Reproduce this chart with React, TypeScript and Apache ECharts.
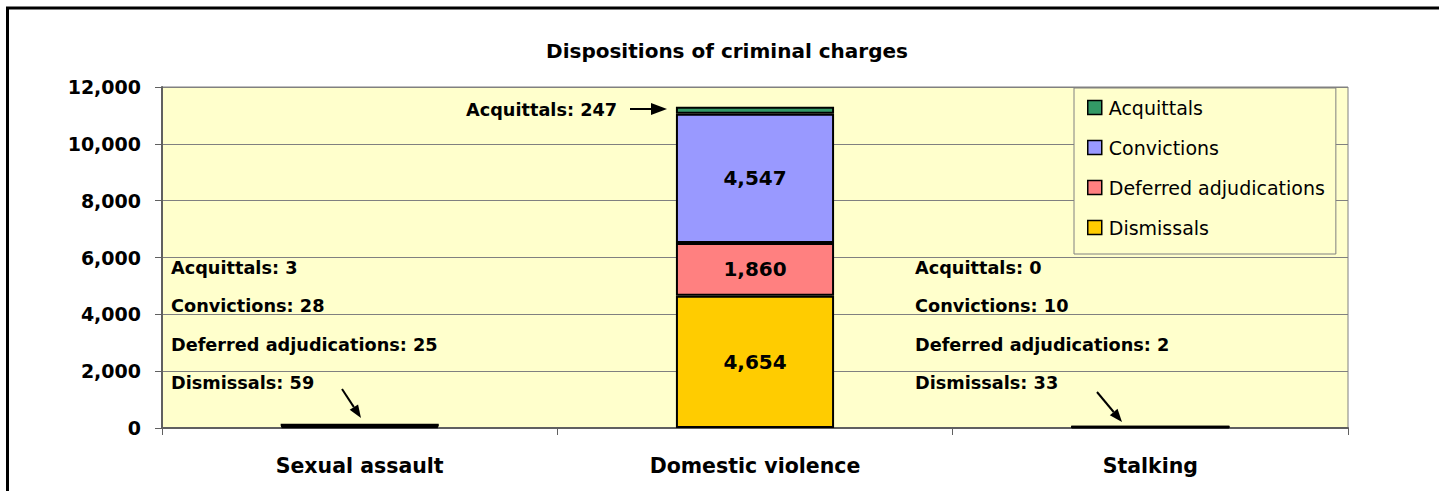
import React, { useEffect, useRef } from "react";
import * as echarts from "echarts";

const categories = ["Sexual assault", "Domestic violence", "Stalking"];
const seriesNames = ["Acquittals", "Convictions", "Deferred adjudications", "Dismissals"];
const dismissals = [59, 4654, 33];
const deferred = [25, 1860, 2];
const convictions = [28, 4547, 10];
const acquittals = [3, 247, 0];
const yMin = 0;
const yMax = 12000;
const yInterval = 2000;
const titleText = "Dispositions of criminal charges";

const colors: Record<string, string> = {
  Acquittals: "#339966",
  Convictions: "#9999FF",
  "Deferred adjudications": "#FF8080",
  Dismissals: "#FFCC00",
};

const FONT = "DejaVu Sans";
const fmt = (v: number) => v.toLocaleString("en-US");

export default function App() {
  const ref = useRef<HTMLDivElement>(null);
  useEffect(() => {
    if (!ref.current) return;
    const chart = echarts.init(ref.current, undefined, { renderer: "svg" });

    const mk = (name: string, vals: number[], showLabel: boolean) => ({
      name,
      type: "bar",
      stack: "total",
      barWidth: "40%",
      itemStyle: { color: colors[name], borderColor: "#000", borderWidth: 2 },
      data: vals.map((v, i) => ({
        value: v,
        label: {
          show: showLabel && i === 1,
          position: "inside",
          formatter: () => fmt(v),
          color: "#000",
          fontFamily: FONT,
          fontWeight: "bold",
          fontSize: 20,
        },
      })),
    });

    const annFont = { fontFamily: FONT, fontWeight: "bold", fontSize: 17.7, fill: "#000" };
    const annLines = (x: number, i: number) => {
      const texts = [
        `Acquittals: ${acquittals[i]}`,
        `Convictions: ${convictions[i]}`,
        `Deferred adjudications: ${deferred[i]}`,
        `Dismissals: ${dismissals[i]}`,
      ];
      const ys = [268, 306, 345, 383];
      return texts.map((t, k) => ({
        type: "text",
        x,
        y: ys[k],
        style: { text: t, ...annFont, verticalAlign: "middle", align: "left" },
      }));
    };
    const arrow = (x1: number, y1: number, x2: number, y2: number, hl = 13, hw = 5) => {
      const dx = x2 - x1, dy = y2 - y1;
      const len = Math.sqrt(dx * dx + dy * dy);
      const ux = dx / len, uy = dy / len;
      const bx = x2 - ux * hl, by = y2 - uy * hl;
      const px = -uy * hw, py = ux * hw;
      return [
        { type: "line", shape: { x1, y1, x2: bx, y2: by }, style: { stroke: "#000", lineWidth: 2 } },
        {
          type: "polygon",
          shape: { points: [[x2, y2], [bx + px, by + py], [bx - px, by - py]] },
          style: { fill: "#000" },
        },
      ];
    };

    const option = {
      animation: false,
      backgroundColor: "#fff",
      title: {
        text: titleText,
        left: 722,
        textAlign: "center",
        top: 36,
        textStyle: { fontFamily: FONT, fontWeight: "bold", fontSize: 20, color: "#000" },
      },
      legend: {
        orient: "vertical",
        left: 1074,
        top: 88,
        data: seriesNames,
        backgroundColor: "#FFFFCC",
        borderColor: "#808080",
        borderWidth: 1,
        padding: [10, 11, 17, 13],
        itemGap: 21,
        itemWidth: 14,
        itemHeight: 14,
        icon: "rect",
        itemStyle: { borderColor: "#000", borderWidth: 1.5 },
        textStyle: { fontFamily: FONT, fontSize: 19, color: "#000", padding: [0, 0, 0, 2] },
      },
      grid: {
        left: 162,
        right: 91,
        top: 87,
        bottom: 63,
        show: true,
        backgroundColor: "#FFFFCC",
        borderColor: "#808080",
        borderWidth: 1,
      },
      xAxis: {
        type: "category",
        data: categories,
        axisLine: { lineStyle: { color: "#606060", width: 2 } },
        axisTick: { show: true, length: 7, lineStyle: { color: "#606060" } },
        axisLabel: {
          margin: 27,
          color: "#000",
          fontFamily: FONT,
          fontWeight: "bold",
          fontSize: 20.5,
        },
      },
      yAxis: {
        type: "value",
        min: yMin,
        max: yMax,
        interval: yInterval,
        axisLine: { show: true, lineStyle: { color: "#606060", width: 2 } },
        axisTick: { show: true, length: 7, lineStyle: { color: "#606060" } },
        splitLine: { lineStyle: { color: "#808080", width: 1 } },
        axisLabel: {
          margin: 21,
          color: "#000",
          fontFamily: FONT,
          fontWeight: "bold",
          fontSize: 19,
          formatter: (v: number) => fmt(v),
        },
      },
      series: [
        mk("Dismissals", dismissals, true),
        mk("Deferred adjudications", deferred, true),
        mk("Convictions", convictions, true),
        mk("Acquittals", acquittals, false),
      ],
      graphic: [
        { type: "line", shape: { x1: 6, y1: 8, x2: 1439, y2: 8 }, style: { stroke: "#000", lineWidth: 3 } },
        { type: "line", shape: { x1: 7.5, y1: 7, x2: 7.5, y2: 491 }, style: { stroke: "#000", lineWidth: 3 } },
        ...annLines(171, 0),
        ...annLines(915, 2),
        {
          type: "text",
          x: 466,
          y: 110,
          style: { text: `Acquittals: ${acquittals[1]}`, ...annFont, verticalAlign: "middle", align: "left" },
        },
        ...arrow(630, 109, 667, 109, 16, 6),
        ...arrow(342, 389, 361, 418),
        ...arrow(1097, 392, 1122, 422),
      ],
    };
    chart.setOption(option as any);
    return () => chart.dispose();
  }, []);
  return (
    <div
      ref={ref}
      style={{ position: "fixed", left: 0, top: 0, width: 1439, height: 491 }}
    />
  );
}
